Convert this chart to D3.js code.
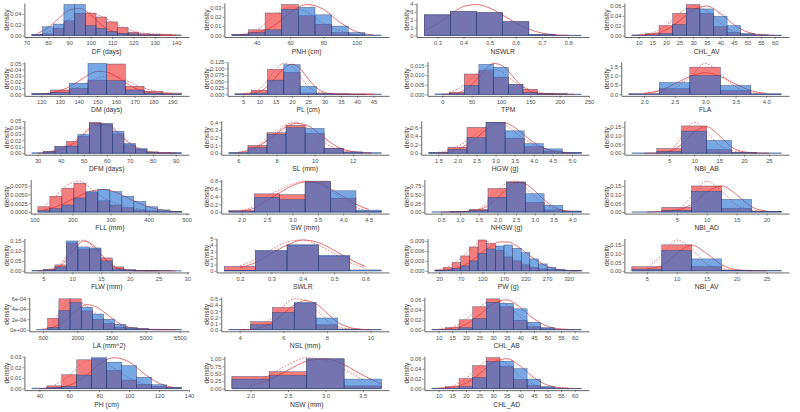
<!DOCTYPE html>
<html>
<head>
<meta charset="utf-8">
<title>Trait density histograms</title>
<style>
  body { margin: 0; background: #fff; }
  svg { display: block; font-family: "Liberation Sans", Arial, sans-serif; }
</style>
</head>
<body>
<script src="https://d3js.org/d3.v7.min.js"></script>
<script>
// panels are listed column by column (7 rows per column)
const panelNames = ["DF (days)", "DM (days)", "DFM (days)", "FLL (mm)", "FLW (mm)", "LA (mm^2)", "PH (cm)",
  "PNH (cm)", "PL (cm)", "SL (mm)", "SW (mm)", "SWLR", "NSL (mm)", "NSW (mm)",
  "NSWLR", "TPM", "HGW (g)", "NHGW (g)", "PW (g)", "CHL_AB", "CHL_AD",
  "CHL_AV", "FLA", "NBI_AB", "NBI_AD", "NBI_AV"];

// centre of the first bin and bin width
const binStart = [75, 120, 30, 125, 4, 460, 40, 30, 5, 6, 2, 0.2, 4, 2, 0.3, 0, 1.5, 0.5, 20, 10, 10, 10, 2, 0, 0, 5];
const binWidth = [5, 10, 5, 31.5, 2, 490, 10, 10, 5, 1, 0.5, 0.1, 1, 0.5, 0.1, 25, 0.5, 0.5, 20, 5, 5, 5, 0.5, 5, 5, 5];

// histogram densities, red group
const redDensity = [
  [0.002, 0.003, 0.013, 0.027, 0.041, 0.041, 0.034, 0.025, 0.015, 0.006, 0.003, 0.002, 0.002, 0.001],
  [0.001, 0.007, 0.010, 0.023, 0.049, 0.013, 0.005, 0.002],
  [0, 0.003, 0.010, 0.018, 0.026, 0.048, 0.045, 0.030, 0.013, 0.006, 0.002, 0.001, 0.0005],
  [0.0015, 0.0045, 0.0068, 0.0082, 0.0055, 0.0032, 0.002, 0.0012, 0.0006, 0.0003, 0.0001, 0.0001],
  [0, 0.008, 0.03, 0.14, 0.11, 0.11, 0.065, 0.02, 0.006, 0.003, 0.001, 0, 0],
  [0, 0.00022, 0.00059, 0.00059, 0.00036, 0.0002, 0.00012, 0.00005, 0.00003, 0.000015, 0.000005, 0.000002, 0.000001],
  [0, 0.0026, 0.013, 0.027, 0.028, 0.017, 0.008, 0.004, 0.002, 0.001],
  [0.001, 0.006, 0.024, 0.033, 0.021, 0.012, 0.003, 0.001, 0],
  [0.002, 0.016, 0.097, 0.085, 0.005, 0.003, 0.002, 0.001, 0.001],
  [0.005, 0.10, 0.265, 0.36, 0.255, 0.065, 0.015, 0],
  [0.04, 0.47, 0.45, 0.8, 0.36, 0.02],
  [0.7, 3.1, 4.0, 2.3, 0],
  [0.002, 0.13, 0.36, 0.43, 0.08, 0.01, 0.002],
  [0.41, 0.57, 1.0, 0.09],
  [2.63, 3.04, 2.9, 1.75, 0.12, 0.02],
  [0, 0.001, 0.0105, 0.0123, 0.0089, 0.005, 0.0026, 0.0005, 0.0003, 0],
  [0.01, 0.14, 0.6, 0.72, 0.35, 0.15, 0.05, 0.01],
  [0, 0.01, 0.075, 0.67, 0.86, 0.27, 0.06, 0.02],
  [0.0003, 0.001, 0.0025, 0.0045, 0.0072, 0.0093, 0.0082, 0.0062, 0.0042, 0.003, 0.0018, 0.001, 0.0006, 0.0004, 0.0002, 0.0001, 0.0001],
  [0.001, 0.004, 0.020, 0.046, 0.062, 0.046, 0.019, 0.006, 0.002, 0.001, 0.0005],
  [0.001, 0.004, 0.020, 0.046, 0.062, 0.045, 0.018, 0.006, 0.002, 0.001, 0.0005],
  [0.001, 0.004, 0.020, 0.045, 0.063, 0.045, 0.018, 0.006, 0.002, 0.001, 0.0005],
  [0.03, 0.3, 1.45, 0.2, 0.02],
  [0, 0.026, 0.154, 0.02, 0.004, 0],
  [0, 0.027, 0.15, 0.022, 0.004],
  [0.024, 0.15, 0.025, 0.004, 0]
];

// histogram densities, blue group
const blueDensity = [
  [0.002, 0.016, 0.021, 0.057, 0.057, 0.018, 0.013, 0.007, 0.004, 0.003, 0.001, 0.001, 0, 0],
  [0.001, 0.003, 0.018, 0.050, 0.022, 0.007, 0.002, 0.0005],
  [0.0005, 0.002, 0.010, 0.011, 0.029, 0.046, 0.046, 0.034, 0.015, 0.007, 0.001, 0.0005, 0.0005],
  [0.0004, 0.001, 0.002, 0.004, 0.0058, 0.0064, 0.0058, 0.0045, 0.003, 0.0015, 0.0006, 0.0002],
  [0.001, 0.005, 0.02, 0.15, 0.12, 0.115, 0.05, 0.01, 0.004, 0.002, 0.001, 0.001, 0.0005],
  [0.000005, 0.00004, 0.000365, 0.00052, 0.00043, 0.0003, 0.0002, 0.0001, 0.00004, 0.00002, 0.00001, 0.000005, 0.000005],
  [0.0005, 0.001, 0.002, 0.0127, 0.029, 0.0248, 0.0215, 0.0107, 0.0036, 0.001],
  [0.001, 0.003, 0.006, 0.028, 0.030, 0.022, 0.010, 0.003, 0.0005],
  [0.001, 0.005, 0.055, 0.115, 0.031, 0.002, 0.001, 0.0005, 0],
  [0.005, 0.07, 0.245, 0.33, 0.32, 0.06, 0.015, 0.005],
  [0.01, 0.38, 0.32, 0.78, 0.55, 0.05],
  [0.1, 3.15, 4.05, 2.4, 0.15],
  [0.002, 0.08, 0.28, 0.44, 0.19, 0.01, 0.002],
  [0.32, 0.44, 1.0, 0.32],
  [2.63, 3.04, 2.9, 1.75, 0.12, 0.02],
  [0.0002, 0.0003, 0.0046, 0.0155, 0.014, 0.005, 0.001, 0.0003, 0.0002, 0.0001],
  [0.01, 0.09, 0.36, 0.72, 0.52, 0.22, 0.1, 0.02],
  [0.005, 0.01, 0.05, 0.42, 0.84, 0.52, 0.19, 0.03],
  [0.0001, 0.0003, 0.0007, 0.0015, 0.003, 0.0052, 0.0066, 0.0075, 0.0078, 0.0068, 0.0055, 0.0036, 0.0021, 0.001, 0.0005, 0.0002, 0.0001],
  [0.0005, 0.001, 0.004, 0.022, 0.055, 0.053, 0.042, 0.015, 0.004, 0.001, 0.0005],
  [0.0005, 0.001, 0.004, 0.022, 0.054, 0.055, 0.040, 0.019, 0.004, 0.001, 0.0005],
  [0.0005, 0.001, 0.004, 0.022, 0.055, 0.054, 0.039, 0.020, 0.004, 0.001, 0.0005],
  [0.01, 0.63, 1.0, 0.47, 0.02],
  [0.001, 0.01, 0.125, 0.072, 0.003, 0.001],
  [0.0005, 0.01, 0.12, 0.073, 0.004],
  [0.01, 0.118, 0.069, 0.004, 0.002]
];

// density curves, read at curveStart + k * curveStep
const curveStart = [75, 120, 30, 125, 4, 460, 40, 30, 5, 6, 2, 0.2, 4, 2, 0.25, 0, 1.5, 0.5, 20, 10, 10, 10, 2, 0, 0, 5];
const curveStep = [5, 5, 5, 31.5, 2, 490, 10, 10, 2.5, 0.5, 0.25, 0.05, 0.5, 0.25, 0.05, 12.5, 0.25, 0.25, 20, 5, 5, 5, 0.25, 2.5, 2.5, 2.5];

const normalCurve = [
  [0.004, 0.014, 0.031, 0.047, 0.05, 0.038, 0.02, 0.008, 0.0025, 0.0006, 0.0001, 0, 0, 0],
  [0.001, 0.002, 0.006, 0.012, 0.021, 0.031, 0.037, 0.036, 0.029, 0.019, 0.01, 0.005, 0.002, 0.0007, 0.0002],
  [0, 0.001, 0.005, 0.014, 0.029, 0.043, 0.044, 0.031, 0.015, 0.005, 0.001, 0.0002, 0],
  [0.0006, 0.0015, 0.003, 0.0047, 0.006, 0.0064, 0.0056, 0.004, 0.0024, 0.0012, 0.0005, 0.0001],
  [0, 0.003, 0.025, 0.095, 0.15, 0.12, 0.05, 0.012, 0.002, 0, 0, 0, 0],
  [0.00001, 0.00005, 0.00016, 0.00035, 0.00048, 0.00042, 0.00026, 0.00011, 0.000035, 0.000008, 0.000001, 0, 0],
  [0, 0.0005, 0.003, 0.011, 0.023, 0.029, 0.025, 0.014, 0.005, 0.001],
  [0.0005, 0.003, 0.01, 0.024, 0.033, 0.028, 0.014, 0.004, 0.0005],
  [0, 0.002, 0.01, 0.03, 0.065, 0.1, 0.117, 0.1, 0.06, 0.025, 0.007, 0.001, 0, 0, 0, 0, 0],
  [0.01, 0.03, 0.08, 0.16, 0.25, 0.34, 0.385, 0.37, 0.3, 0.2, 0.11, 0.05, 0.02, 0.007, 0.002],
  [0.03, 0.1, 0.3, 0.5, 0.68, 0.78, 0.75, 0.6, 0.4, 0.2, 0.07],
  [0.5, 1.3, 2.7, 4.0, 4.8, 4.4, 3.2, 1.8, 0.7],
  [0, 0.005, 0.04, 0.12, 0.26, 0.4, 0.47, 0.42, 0.27, 0.12, 0.04, 0.01, 0.002],
  [0.1, 0.3, 0.62, 0.92, 1.0, 0.8, 0.45, 0.15],
  [0.7, 1.5, 2.7, 3.7, 3.95, 3.5, 2.6, 1.6, 0.8, 0.3, 0.08, 0.02],
  [0, 0.0002, 0.0007, 0.002, 0.005, 0.009, 0.0135, 0.016, 0.0152, 0.012, 0.0075, 0.0038, 0.0015, 0.0005, 0.0001, 0, 0, 0, 0],
  [0.005, 0.02, 0.08, 0.2, 0.35, 0.55, 0.68, 0.7, 0.6, 0.42, 0.25, 0.12, 0.05, 0.015, 0.005],
  [0, 0, 0.005, 0.02, 0.06, 0.18, 0.4, 0.66, 0.84, 0.8, 0.6, 0.35, 0.15, 0.05, 0.01],
  [0.0001, 0.0003, 0.0008, 0.0018, 0.0035, 0.0056, 0.0075, 0.0087, 0.0087, 0.0075, 0.0056, 0.0036, 0.002, 0.0009, 0.0004, 0.0001, 0],
  [0.0005, 0.003, 0.011, 0.03, 0.052, 0.06, 0.045, 0.022, 0.007, 0.0015, 0.0002],
  [0.0005, 0.003, 0.011, 0.03, 0.052, 0.06, 0.045, 0.022, 0.007, 0.0015, 0.0002],
  [0.0005, 0.003, 0.011, 0.03, 0.052, 0.06, 0.045, 0.022, 0.007, 0.0015, 0.0002],
  [0.05, 0.2, 0.55, 0.95, 1.15, 0.95, 0.55, 0.2, 0.05],
  [0, 0.001, 0.01, 0.05, 0.12, 0.15, 0.1, 0.035, 0.007, 0.001, 0],
  [0, 0.003, 0.01, 0.045, 0.115, 0.15, 0.1, 0.03, 0.005],
  [0.012, 0.03, 0.1, 0.148, 0.1, 0.035, 0.007, 0.001, 0]
];

const kernelCurve = [
  [0.001, 0.006, 0.016, 0.03, 0.04, 0.042, 0.035, 0.025, 0.015, 0.008, 0.004, 0.003, 0.002, 0.001],
  [0.001, 0.002, 0.004, 0.007, 0.012, 0.019, 0.026, 0.03, 0.029, 0.023, 0.016, 0.01, 0.006, 0.003, 0.002],
  [null, 0.002, 0.008, 0.017, 0.031, 0.046, 0.046, 0.032, 0.016, 0.006, 0.002, 0.001, null],
  [0.0015, 0.0045, 0.0078, 0.0088, 0.0065, 0.004, 0.0025, 0.0015, 0.0008, 0.0004, 0.0002, 0.0001],
  [null, 0.008, 0.035, 0.12, 0.155, 0.11, 0.055, 0.015, 0.005, 0.002, 0.001, null, null],
  [null, 0.00015, 0.00043, 0.00056, 0.00045, 0.00028, 0.00016, 0.00008, 0.00004, 0.00002, 0.00001, 0.000005, null],
  [null, 0.003, 0.012, 0.025, 0.027, 0.019, 0.01, 0.004, 0.002, 0.001],
  [0.001, 0.006, 0.02, 0.03, 0.025, 0.013, 0.005, 0.001, null],
  [0.002, 0.008, 0.02, 0.055, 0.095, 0.12, 0.11, 0.07, 0.03, 0.01, 0.005, 0.003, 0.003, 0.002, 0.002, 0.001, 0.001],
  [0.01, 0.04, 0.1, 0.18, 0.28, 0.37, 0.4, 0.35, 0.25, 0.14, 0.07, 0.035, 0.02, 0.008, 0.003],
  [0.05, 0.15, 0.4, 0.58, 0.72, 0.8, 0.72, 0.55, 0.35, 0.12, 0.03],
  [0.8, 1.8, 3.3, 4.5, 4.8, 4.0, 2.7, 1.3, 0.5],
  [null, 0.005, 0.05, 0.2, 0.38, 0.5, 0.48, 0.33, 0.15, 0.05, 0.015, 0.005, 0.002],
  [0.15, 0.45, 0.8, 1.04, 0.95, 0.65, 0.3, null],
  [],
  [null, 0.001, 0.0025, 0.005, 0.008, 0.0115, 0.013, 0.0128, 0.012, 0.009, 0.006, 0.004, 0.0025, 0.0013, 0.0006, 0.0003, 0.0002, null, null],
  [0.02, 0.06, 0.15, 0.3, 0.45, 0.62, 0.72, 0.65, 0.5, 0.33, 0.2, 0.12, 0.07, 0.03, 0.01],
  [null, null, 0.01, 0.03, 0.08, 0.3, 0.6, 0.82, 0.88, 0.7, 0.45, 0.25, 0.1, 0.04, 0.01],
  [0.0003, 0.0012, 0.0028, 0.005, 0.0075, 0.009, 0.0084, 0.0066, 0.0046, 0.003, 0.0018, 0.001, 0.0005, 0.0003, 0.0002, 0.0001, null],
  [0.001, 0.005, 0.02, 0.045, 0.06, 0.05, 0.025, 0.008, 0.002, 0.0005, null],
  [0.001, 0.005, 0.02, 0.045, 0.06, 0.05, 0.025, 0.008, 0.002, 0.0005, null],
  [0.001, 0.005, 0.02, 0.045, 0.06, 0.05, 0.025, 0.008, 0.002, 0.0005, null],
  [0.05, 0.15, 0.35, 0.9, 1.65, 1.1, 0.4, 0.1, 0.02],
  [null, 0.002, 0.012, 0.09, 0.175, 0.12, 0.045, 0.015, 0.005, 0.001, null],
  [null, 0.003, 0.012, 0.09, 0.178, 0.12, 0.04, 0.012, 0.004],
  [0.013, 0.09, 0.178, 0.125, 0.04, 0.012, 0.004, 0.001, null]
];

const xTicks = [
  [70, 80, 90, 100, 110, 120, 130, 140], [120, 130, 140, 150, 160, 170, 180, 190],
  [30, 40, 50, 60, 70, 80, 90], [100, 200, 300, 400, 500], [5, 10, 15, 20, 25, 30],
  [500, 2000, 3500, 5000, 6500], [40, 60, 80, 100, 120, 140],
  [40, 60, 80, 100], [5, 10, 15, 20, 25, 30, 35, 40, 45], [6, 8, 10, 12],
  [2, 2.5, 3, 3.5, 4, 4.5], [0.2, 0.3, 0.4, 0.5, 0.6], [4, 6, 8, 10], [2, 2.5, 3, 3.5],
  [0.3, 0.4, 0.5, 0.6, 0.7, 0.8], [0, 50, 100, 150, 200, 250], [1.5, 2, 2.5, 3, 3.5, 4, 4.5, 5],
  [0.5, 1, 1.5, 2, 2.5, 3, 3.5, 4], [20, 70, 120, 170, 220, 270, 320],
  [10, 15, 20, 25, 30, 35, 40, 45, 50, 55, 60], [10, 15, 20, 25, 30, 35, 40, 45, 50, 55, 60],
  [10, 15, 20, 25, 30, 35, 40, 45, 50, 55, 60], [2, 2.5, 3, 3.5, 4], [5, 10, 15, 20, 25],
  [5, 10, 15, 20], [5, 10, 15, 20, 25]
];

const yTicks = [
  [0, 0.02, 0.04], [0, 0.01, 0.02, 0.03, 0.04, 0.05], [0, 0.01, 0.02, 0.03, 0.04, 0.05],
  [0, 0.0025, 0.005, 0.0075], [0, 0.05, 0.1, 0.15], [0, 0.0002, 0.0004, 0.0006], [0, 0.01, 0.02, 0.03],
  [0, 0.01, 0.02, 0.03], [0, 0.025, 0.05, 0.075, 0.1, 0.125], [0, 0.1, 0.2, 0.3, 0.4],
  [0, 0.2, 0.4, 0.6, 0.8], [0, 1, 2, 3, 4, 5], [0, 0.1, 0.2, 0.3, 0.4, 0.5], [0, 0.25, 0.5, 0.75, 1],
  [0, 1, 2, 3, 4], [0, 0.005, 0.01, 0.015], [0, 0.2, 0.4, 0.6], [0, 0.25, 0.5, 0.75],
  [0, 0.003, 0.006, 0.009], [0, 0.02, 0.04, 0.06], [0, 0.02, 0.04, 0.06],
  [0, 0.02, 0.04, 0.06], [0, 0.5, 1, 1.5], [0, 0.05, 0.1, 0.15], [0, 0.05, 0.1, 0.15], [0, 0.05, 0.1, 0.15]
];

const width = 800, height = 412;
const nRows = 7;
const cellW = width / 4, cellH = height / nRows;

const redFill = "rgb(235,20,20)", blueFill = "rgb(30,110,210)";

const svg = d3.select("body").append("svg")
  .attr("width", width)
  .attr("height", height);

// number of decimals a literal needs
function decimals(v) {
  const s = String(v);
  const k = s.indexOf(".");
  return k < 0 ? 0 : s.length - k - 1;
}

// R-like scientific labels: 2e-04, 0e+00
function sciLabel(v) {
  if (v === 0) return "0e+00";
  const parts = v.toExponential(0).split("e");
  const e = +parts[1];
  return parts[0] + "e" + (e < 0 ? "-" : "+") + String(Math.abs(e)).padStart(2, "0");
}

function tickFormatter(ticks) {
  const mx = d3.max(ticks, Math.abs);
  if (mx > 0 && mx < 0.001) return sciLabel;
  return d3.format("." + d3.max(ticks, decimals) + "f");
}

panelNames.forEach((name, i) => {
  const col = Math.floor(i / nRows), row = i % nRows;
  const g = svg.append("g")
    .attr("transform", `translate(${col * cellW},${row * cellH})`);

  const yFmt = tickFormatter(yTicks[i]);
  const xFmt = tickFormatter(xTicks[i]);

  // measure widest y tick label so the panel starts right after it
  let labelW = 0;
  const probe = g.append("g").attr("font-size", 5.7);
  yTicks[i].forEach(v => {
    const t = probe.append("text").text(yFmt(v));
    labelW = Math.max(labelW, t.node().getComputedTextLength());
  });
  probe.remove();

  const left = 10.5 + labelW + 2.8, right = 189;
  const top = 3, bottom = 37;

  const bw = binWidth[i];
  const centers = redDensity[i].map((_, k) => binStart[i] + k * bw);
  const lo = binStart[i] - bw / 2;
  const hi = centers[centers.length - 1] + bw / 2;
  const pad = (hi - lo) * 0.05;

  const x = d3.scaleLinear().domain([lo - pad, hi + pad]).range([left, right]);

  const allY = redDensity[i].concat(blueDensity[i], normalCurve[i], kernelCurve[i]).filter(v => v != null);
  const yMax = d3.max(allY);
  const y = d3.scaleLinear().domain([-yMax * 0.05, yMax * 1.05]).range([bottom, top]);

  // light baseline under the bins
  g.append("line")
    .attr("x1", x(lo)).attr("x2", x(hi))
    .attr("y1", y(0)).attr("y2", y(0))
    .attr("stroke", "#a9c9ee")
    .attr("stroke-width", 1.3);

  const drawBars = (values, fill, opacity) => {
    g.append("g")
      .selectAll("rect")
      .data(values.map((v, k) => ({ c: centers[k], v })).filter(d => d.v > 0))
      .join("rect")
      .attr("x", d => x(d.c - bw / 2))
      .attr("width", d => x(d.c + bw / 2) - x(d.c - bw / 2))
      .attr("y", d => y(d.v))
      .attr("height", d => y(0) - y(d.v))
      .attr("fill", fill)
      .attr("fill-opacity", opacity)
      .attr("stroke", "#2c3766")
      .attr("stroke-opacity", 0.75)
      .attr("stroke-width", 0.5);
  };

  const line = d3.line()
    .defined(d => d[1] != null)
    .x(d => x(d[0]))
    .y(d => y(d[1]))
    .curve(d3.curveMonotoneX);

  const pts = arr => arr.map((v, k) => [curveStart[i] + k * curveStep[i], v]);

  drawBars(redDensity[i], redFill, 0.55);

  g.append("path")
    .attr("d", line(pts(normalCurve[i])))
    .attr("fill", "none")
    .attr("stroke", "#e3302f")
    .attr("stroke-width", 0.7);

  if (kernelCurve[i].length) {
    g.append("path")
      .attr("d", line(pts(kernelCurve[i])))
      .attr("fill", "none")
      .attr("stroke", "#ee4a4a")
      .attr("stroke-width", 0.7)
      .attr("stroke-dasharray", "1.8,1.4");
  }

  drawBars(blueDensity[i], blueFill, 0.6);

  // axes
  const [d0, d1] = x.domain();
  const xAxis = d3.axisBottom(x)
    .tickValues(xTicks[i].filter(v => v >= d0 && v <= d1))
    .tickFormat(xFmt)
    .tickSize(2)
    .tickSizeOuter(0)
    .tickPadding(2.2);

  const yAxis = d3.axisLeft(y)
    .tickValues(yTicks[i].filter(v => v <= yMax * 1.05))
    .tickFormat(yFmt)
    .tickSize(2)
    .tickSizeOuter(0)
    .tickPadding(1);

  const styleAxis = sel => {
    sel.select(".domain").attr("stroke", "#000").attr("stroke-width", 0.6);
    sel.selectAll(".tick line").attr("stroke", "#333").attr("stroke-width", 0.5);
    sel.selectAll(".tick text").attr("fill", "#4d4d4d").attr("font-size", 5.7);
    sel.attr("font-family", null);
  };

  g.append("g")
    .attr("transform", `translate(0,${bottom})`)
    .call(xAxis)
    .call(styleAxis);

  g.append("g")
    .attr("transform", `translate(${left},0)`)
    .call(yAxis)
    .call(styleAxis);

  // titles
  g.append("text")
    .attr("x", (left + right) / 2)
    .attr("y", bottom + 16.5)
    .attr("text-anchor", "middle")
    .attr("font-size", 6.8)
    .attr("fill", "#333")
    .text(name);

  g.append("text")
    .attr("transform", `translate(8.5,${(top + bottom) / 2}) rotate(-90)`)
    .attr("text-anchor", "middle")
    .attr("font-size", 6.6)
    .attr("fill", "#333")
    .text("density");
});
</script>
</body>
</html>
